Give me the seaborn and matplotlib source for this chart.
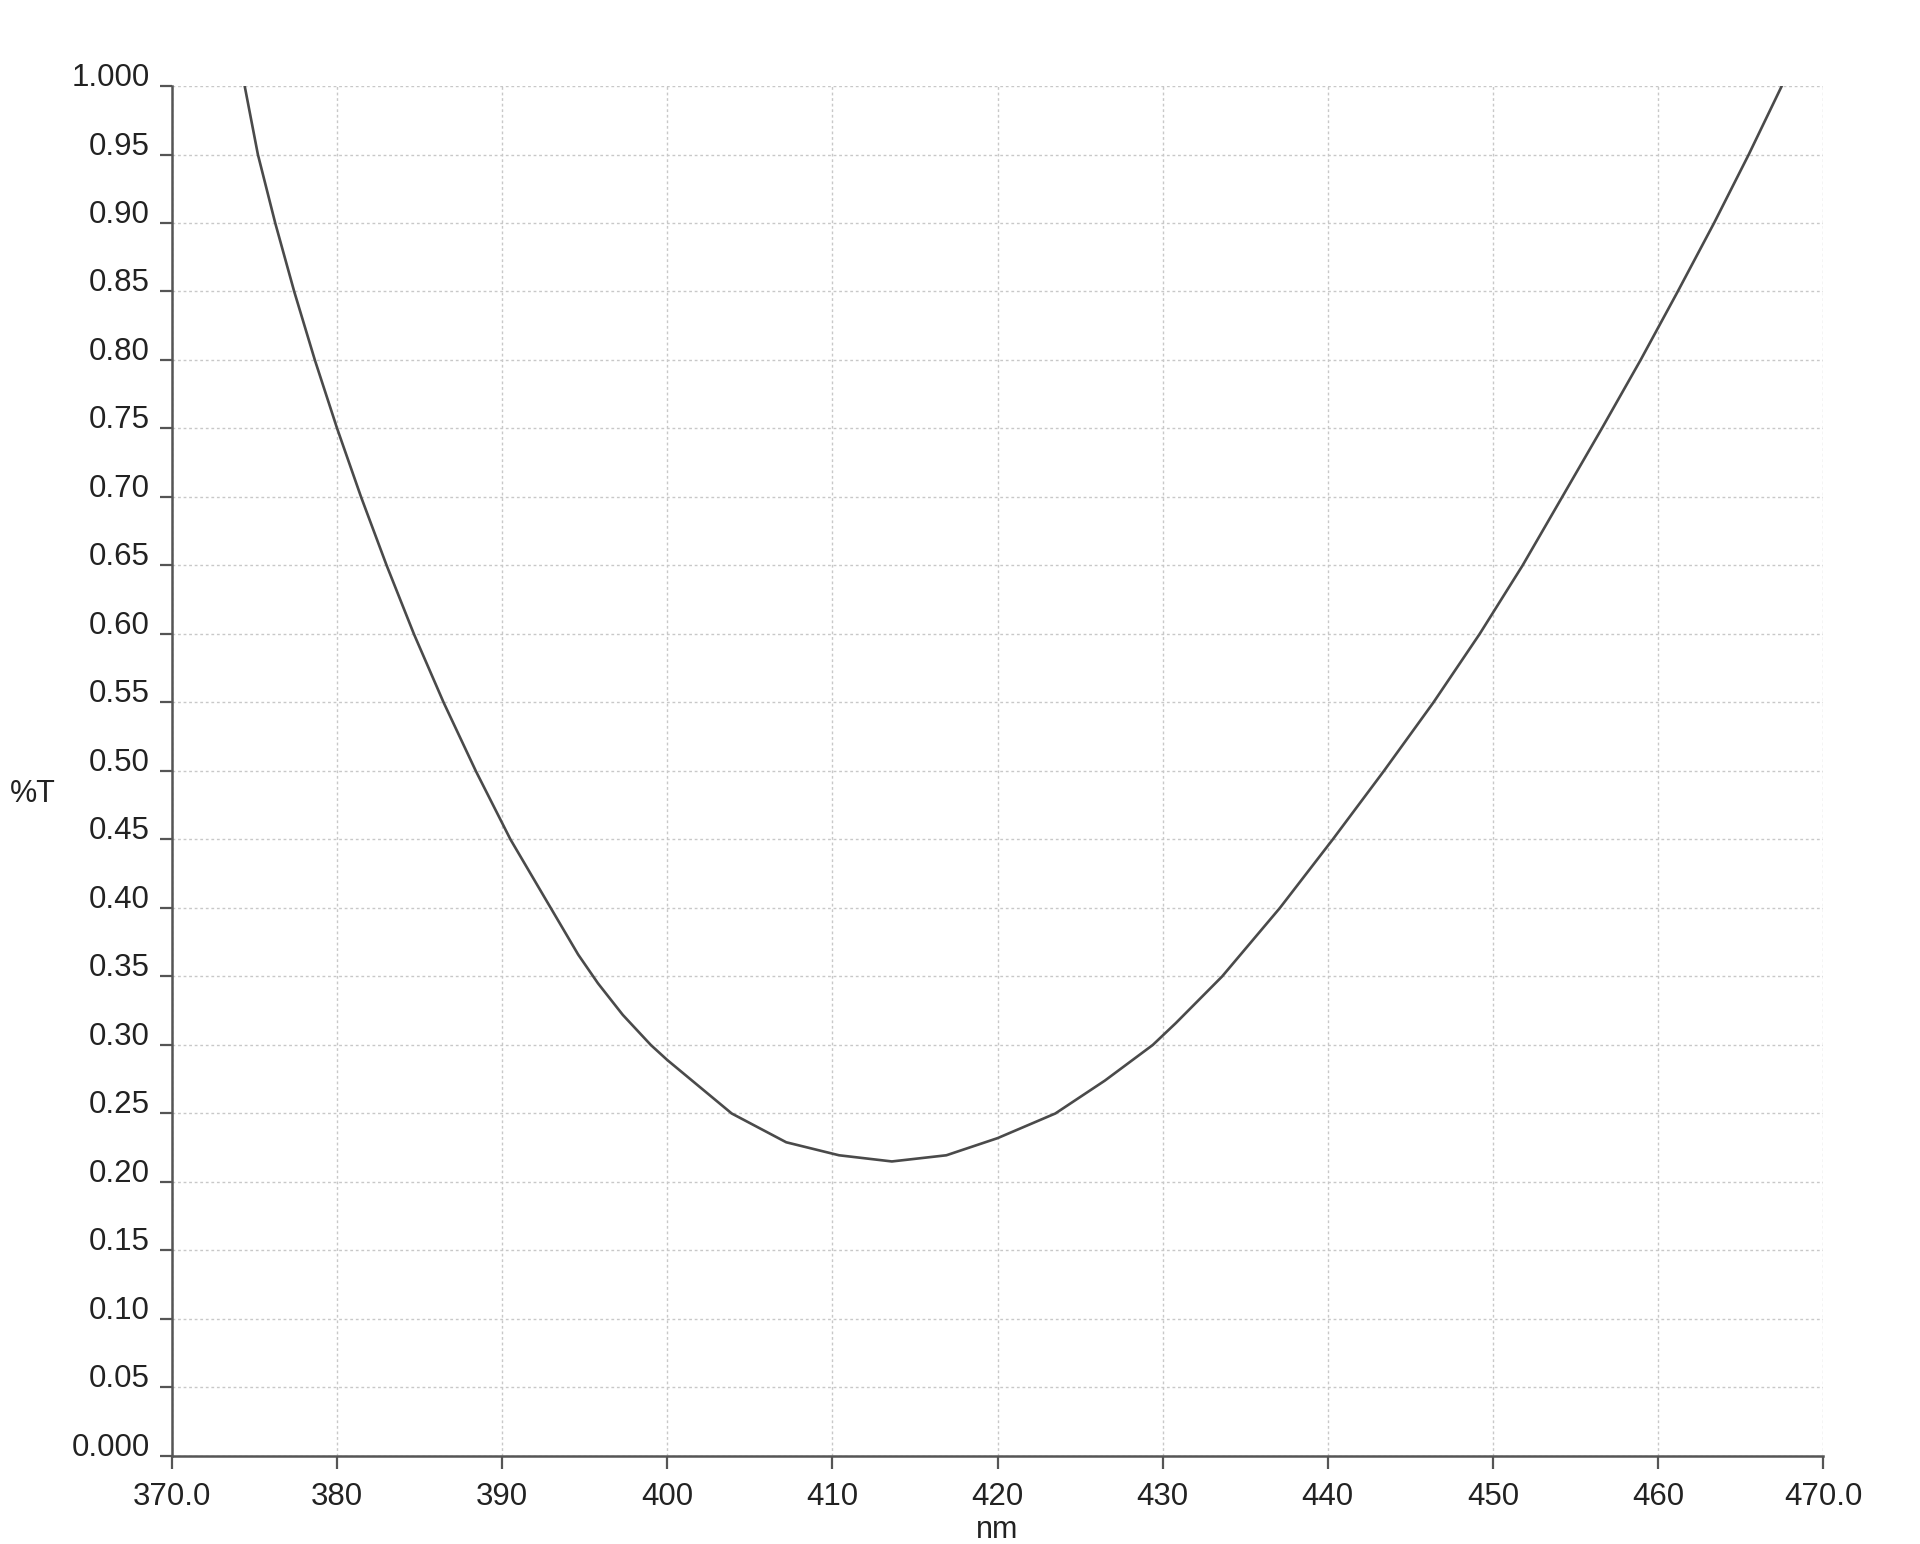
"""
Transmission spectrum (%T vs nm) recreated with seaborn.
"""
import matplotlib
matplotlib.use('Agg')
import matplotlib.pyplot as plt
import seaborn as sns
import pandas as pd

# values
wavelength_nm = [374.4, 375.2, 376.25, 377.4, 378.65, 380.0, 381.45, 383.0,
                 384.65, 386.45, 388.4, 390.5, 392.5, 394.6, 395.8, 397.3,
                 399.0, 400.0, 403.9, 407.2, 410.4, 413.6, 416.9, 420.0,
                 423.5, 426.5, 429.4, 430.8, 433.6, 437.1, 440.3, 443.4,
                 446.4, 449.2, 451.8, 454.2, 456.6, 458.95, 461.2, 463.4,
                 465.5, 467.5]
transmittance = [1.000, 0.950, 0.900, 0.850, 0.800, 0.750, 0.700, 0.650,
                 0.600, 0.550, 0.500, 0.450, 0.409, 0.366, 0.345, 0.322,
                 0.300, 0.289, 0.250, 0.229, 0.2195, 0.215, 0.2195, 0.232,
                 0.250, 0.274, 0.300, 0.316, 0.350, 0.400, 0.450, 0.500,
                 0.550, 0.600, 0.650, 0.700, 0.750, 0.800, 0.850, 0.900,
                 0.950, 1.000]

x_ticks = [370, 380, 390, 400, 410, 420, 430, 440, 450, 460, 470]
x_tick_labels = ['370.0', '380', '390', '400', '410', '420', '430',
                 '440', '450', '460', '470.0']
y_ticks = [0.0, 0.05, 0.10, 0.15, 0.20, 0.25, 0.30, 0.35, 0.40, 0.45,
           0.50, 0.55, 0.60, 0.65, 0.70, 0.75, 0.80, 0.85, 0.90, 0.95, 1.0]
y_tick_labels = ['0.000', '0.05', '0.10', '0.15', '0.20', '0.25', '0.30',
                 '0.35', '0.40', '0.45', '0.50', '0.55', '0.60', '0.65',
                 '0.70', '0.75', '0.80', '0.85', '0.90', '0.95', '1.000']

sns.set_style("ticks")
plt.rcParams['font.family'] = ['Liberation Sans', 'DejaVu Sans']

df = pd.DataFrame({'nm': wavelength_nm, 'T': transmittance})

fig = plt.figure(figsize=(19.2, 15.44), dpi=100)
fig.patch.set_facecolor('white')
ax = fig.add_axes([0.0896, 0.057, 0.8599, 0.8873])

sns.lineplot(data=df, x='nm', y='T', ax=ax, color='#4a4a4a',
             linewidth=1.9, sort=False)

ax.set_xlim(370, 470)
ax.set_ylim(0, 1.0)
ax.set_xticks(x_ticks)
ax.set_xticklabels(x_tick_labels)
ax.set_yticks(y_ticks)
ax.set_yticklabels(y_tick_labels)

ax.grid(True, color='#c8c8c8', linestyle=(0, (2, 2)), linewidth=1.0)
ax.set_axisbelow(True)

for side in ['top', 'right']:
    ax.spines[side].set_visible(False)
for side in ['left', 'bottom']:
    ax.spines[side].set_color('#555555')
    ax.spines[side].set_linewidth(1.8)

ax.tick_params(axis='both', labelsize=22.5, colors='#555555',
               labelcolor='#222222', length=9, width=1.6)
ax.tick_params(axis='x', pad=10)
ax.tick_params(axis='y', pad=7)
for lbl in ax.get_yticklabels():
    lbl.set_verticalalignment('baseline')

ax.set_xlabel('nm', fontsize=22, color='#222222', labelpad=2)
ax.set_ylabel('')
fig.text(0.005, 0.486, '%T', fontsize=22, color='#222222', va='center')

plt.savefig('out.png', dpi=100, facecolor='white')
plt.close()
